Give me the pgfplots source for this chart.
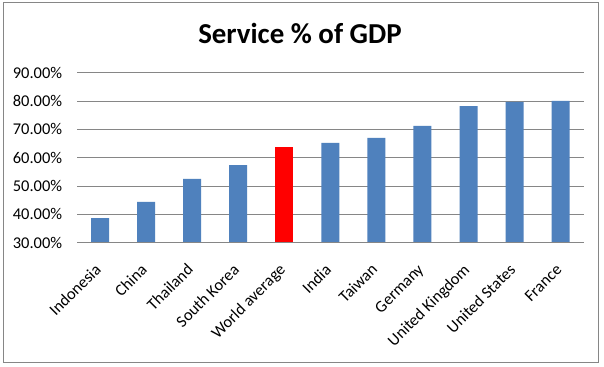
\documentclass[border=0pt]{standalone}
\usepackage{fontspec}
\setmainfont{Carlito}
\usepackage{pgfplots}
\pgfplotsset{compat=1.18}
\definecolor{barblue}{HTML}{4F81BD}
\definecolor{gridgray}{HTML}{868686}
\begin{document}
\begin{tikzpicture}[x=1bp,y=1bp]
\useasboundingbox (0,0) rectangle (604,366);
\fill[white] (0,0) rectangle (604,366);
\draw[gridgray, line width=0.9bp] (3,3.5) rectangle (598,363.5);
\node[font=\bfseries\fontsize{29}{34}\selectfont, anchor=base] at (300,323) {Service \% of GDP};
\begin{axis}[
  at={(77bp,123.3bp)}, anchor=south west,
  scale only axis, width=506.7bp, height=170bp,
  ymin=30, ymax=90, ytick={30,40,...,90},
  yticklabels={30.00\%,40.00\%,50.00\%,60.00\%,70.00\%,80.00\%,90.00\%},
  xmin=-0.5, xmax=10.5,
  xtick={0,...,10},
  xticklabels={Indonesia,China,Thailand,South Korea,World average,India,Taiwan,Germany,United Kingdom,United States,France},
  axis line style={draw=none},
  ymajorgrids, grid style={gridgray, line width=0.9bp},
  major tick length=0pt,
  tick label style={font=\fontsize{16.5}{19}\selectfont},
  yticklabel style={anchor=east, inner sep=0pt, xshift=-14.7bp},
  xticklabel style={xshift=2bp, yshift=-28bp, rotate=45, anchor=base east, inner sep=0pt},
  ybar, bar width=18bp,
]
\addplot[fill=barblue, draw=none, bar shift=0pt] coordinates {(0,38.7) (1,44.4) (2,52.5) (3,57.4) (5,65.2) (6,67.0) (7,71.2) (8,78.2) (9,79.7) (10,80.1)};
\addplot[fill=red, draw=none, bar shift=0pt] coordinates {(4,63.8)};
\draw[gridgray, line width=0.9bp] (rel axis cs:0,0) -- (rel axis cs:1,0);
\end{axis}
\end{tikzpicture}
\end{document}
